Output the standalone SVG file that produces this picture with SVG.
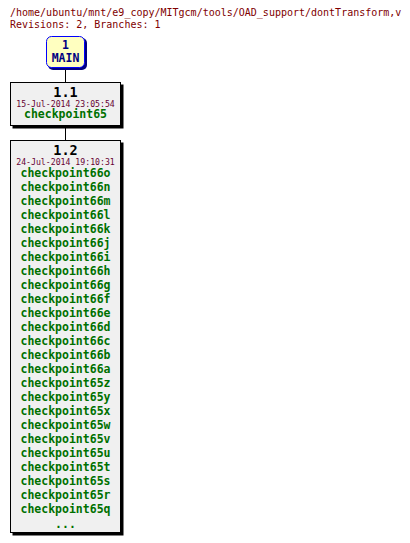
<svg xmlns="http://www.w3.org/2000/svg" width="410" height="543" viewBox="0 0 410 543">
<style>
.mono{font-family:"DejaVu Sans Mono","Liberation Mono",monospace}
.hdr{font-size:10px;fill:#800000}
.box{fill:#f0f0f0;stroke:#000;stroke-width:1}
.sh{fill:#000}
.rev{font-size:13.5px;font-weight:bold;fill:#000;text-anchor:middle}
.date{font-size:8.2px;fill:#660033;text-anchor:middle}
.tag{font-size:11.5px;font-weight:bold;fill:#007000;text-anchor:middle}
.br{font-size:11.5px;font-weight:bold;fill:#000080;text-anchor:middle}
</style>
<rect width="410" height="543" fill="#fff"/>
<text class="mono hdr" x="10" y="15.5">/home/ubuntu/mnt/e9_copy/MITgcm/tools/OAD_support/dontTransform,v</text>
<text class="mono hdr" x="10" y="28.3">Revisions: 2, Branches: 1</text>
<g id="connectors" stroke="#000" stroke-width="1">
<line x1="65.5" y1="68" x2="65.5" y2="82"/>
<line x1="65.5" y1="126" x2="65.5" y2="140"/>
</g>
<g id="main">
<rect x="48" y="38" width="39" height="32" rx="5" fill="#000080"/>
<rect x="46.5" y="36.5" width="38" height="31" rx="5" fill="#ffffc0" stroke="#0000ff"/>
<text class="mono br" x="65.5" y="49.3">1</text>
<text class="mono br" x="65.5" y="62">MAIN</text>
</g>
<g id="r1_1">
<rect class="sh" x="12.5" y="84.5" width="111" height="44"/>
<rect class="box" x="10.5" y="82.5" width="110" height="43"/>
<text class="mono rev" x="65.5" y="96.6">1.1</text>
<text class="mono date" x="65.5" y="106.7">15-Jul-2014 23:05:54</text>
<text class="mono tag" x="65.5" y="118.4">checkpoint65</text>
</g>
<g id="r1_2">
<rect class="sh" x="12.5" y="142.5" width="111" height="393"/>
<rect class="box" x="10.5" y="140.5" width="110" height="392"/>
<text class="mono rev" x="65.5" y="154.8">1.2</text>
<text class="mono date" x="65.5" y="165">24-Jul-2014 19:10:31</text>
<text class="mono tag" x="65.5" y="176.5">checkpoint66o</text>
<text class="mono tag" x="65.5" y="190.5">checkpoint66n</text>
<text class="mono tag" x="65.5" y="204.5">checkpoint66m</text>
<text class="mono tag" x="65.5" y="218.5">checkpoint66l</text>
<text class="mono tag" x="65.5" y="232.5">checkpoint66k</text>
<text class="mono tag" x="65.5" y="246.5">checkpoint66j</text>
<text class="mono tag" x="65.5" y="260.5">checkpoint66i</text>
<text class="mono tag" x="65.5" y="274.5">checkpoint66h</text>
<text class="mono tag" x="65.5" y="288.5">checkpoint66g</text>
<text class="mono tag" x="65.5" y="302.5">checkpoint66f</text>
<text class="mono tag" x="65.5" y="316.5">checkpoint66e</text>
<text class="mono tag" x="65.5" y="330.5">checkpoint66d</text>
<text class="mono tag" x="65.5" y="344.5">checkpoint66c</text>
<text class="mono tag" x="65.5" y="358.5">checkpoint66b</text>
<text class="mono tag" x="65.5" y="372.5">checkpoint66a</text>
<text class="mono tag" x="65.5" y="386.5">checkpoint65z</text>
<text class="mono tag" x="65.5" y="400.5">checkpoint65y</text>
<text class="mono tag" x="65.5" y="414.5">checkpoint65x</text>
<text class="mono tag" x="65.5" y="428.5">checkpoint65w</text>
<text class="mono tag" x="65.5" y="442.5">checkpoint65v</text>
<text class="mono tag" x="65.5" y="456.5">checkpoint65u</text>
<text class="mono tag" x="65.5" y="470.5">checkpoint65t</text>
<text class="mono tag" x="65.5" y="484.5">checkpoint65s</text>
<text class="mono tag" x="65.5" y="498.5">checkpoint65r</text>
<text class="mono tag" x="65.5" y="512.5">checkpoint65q</text>
<text class="mono tag" x="65.5" y="528">...</text>
</g>
</svg>
